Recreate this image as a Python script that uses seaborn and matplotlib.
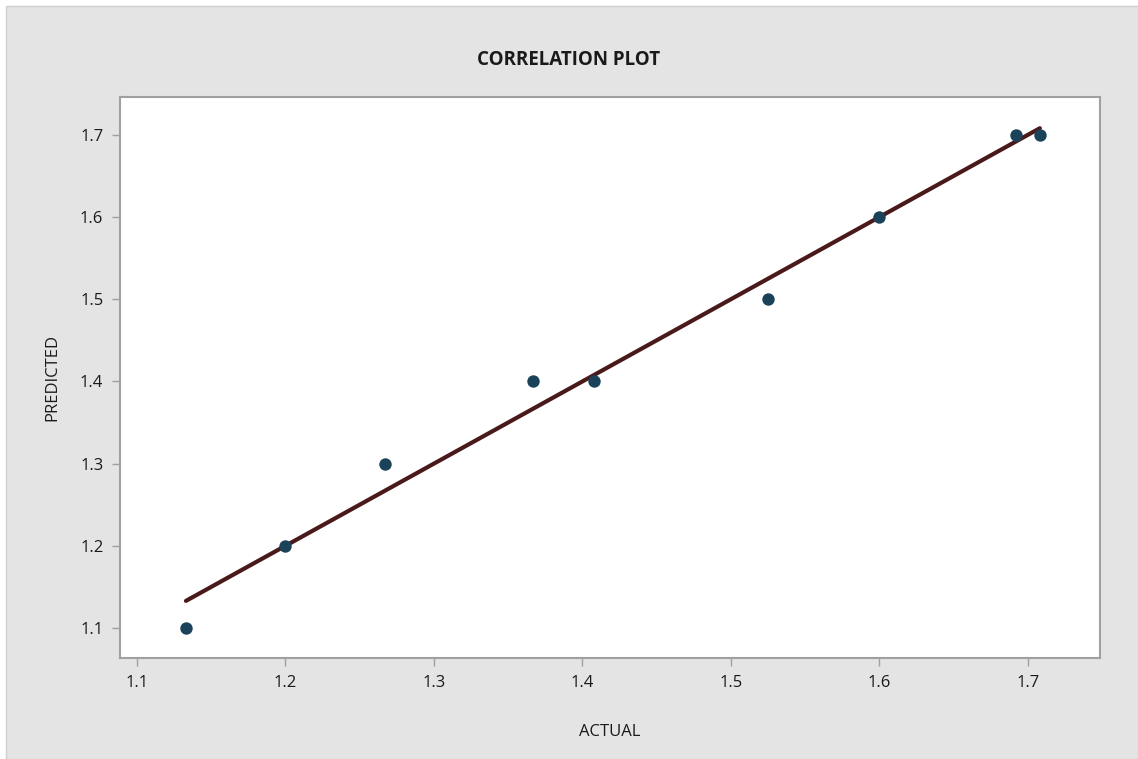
import matplotlib
matplotlib.use("Agg")
import matplotlib.pyplot as plt
import seaborn as sns
import pandas as pd
from matplotlib.patches import Rectangle

actual = [1.133, 1.200, 1.267, 1.367, 1.408, 1.525, 1.600, 1.692, 1.708]
predicted = [1.1, 1.2, 1.3, 1.4, 1.4, 1.5, 1.6, 1.7, 1.7]
x_ticks = [1.1, 1.2, 1.3, 1.4, 1.5, 1.6, 1.7]
y_ticks = [1.1, 1.2, 1.3, 1.4, 1.5, 1.6, 1.7]

df = pd.DataFrame({"ACTUAL": actual, "PREDICTED": predicted})

sns.set_style("white")
plt.rcParams['font.family'] = ['Open Sans', 'DejaVu Sans']

fig = plt.figure(figsize=(11.38, 7.59), dpi=100, facecolor="white")
fig.patches.append(Rectangle((6/1138, 0), 1 - 6/1138, 1 - 6/759, transform=fig.transFigure,
                             facecolor="#e4e4e4", edgecolor="#d0d0d0", lw=1, zorder=-10))
ax = fig.add_axes([120/1138, 101/759, 980/1138, 561/759])
ax.set_facecolor("white")

sns.regplot(data=df, x="ACTUAL", y="PREDICTED", ax=ax, ci=None,
            scatter_kws=dict(s=80, color="#1a435a", alpha=1, zorder=3, linewidths=0),
            line_kws=dict(color="#4a1a1a", lw=3, zorder=2))

ax.set_xlim(1.0886, 1.7485)
ax.set_ylim(1.0635, 1.746)
ax.set_xticks(x_ticks)
ax.set_yticks(y_ticks)
ax.set_xticklabels([f"{v:.1f}" for v in x_ticks])
ax.set_yticklabels([f"{v:.1f}" for v in y_ticks])
for s in ax.spines.values():
    s.set_color("#a0a0a0")
    s.set_linewidth(1.5)
ax.tick_params(axis="both", direction="out", length=6, width=1, color="#a0a0a0",
               labelsize=12, labelcolor="#1a1a1a", pad=6)
ax.tick_params(left=True, bottom=True)
ax.set_xlabel("ACTUAL", fontsize=12, color="#1a1a1a", labelpad=24)
ax.set_ylabel("PREDICTED", fontsize=12, color="#1a1a1a", labelpad=14)
fig.text(0.5, 1 - 60/759, "CORRELATION PLOT", ha="center", va="center",
         fontsize=13.5, fontweight="bold", color="#1a1a1a")

fig.savefig("out.png", dpi=100, facecolor=fig.get_facecolor())
